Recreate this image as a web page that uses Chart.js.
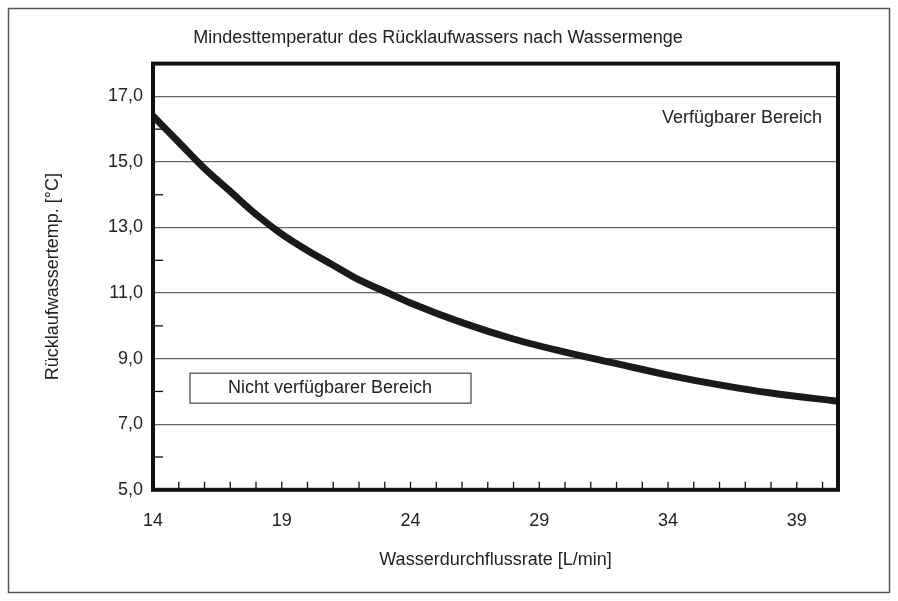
<!DOCTYPE html>
<html><head><meta charset="utf-8">
<script src="https://cdn.jsdelivr.net/npm/chart.js@4"></script>
<style>html,body{margin:0;padding:0;background:#fff}#w{width:898px;height:601px}</style>
</head><body><div id="w"><canvas id="c"></canvas></div>
<script>
const flowRate=[14,15,16,17,18,19,20,21,22,23,24,26,28,30,32,34,36,38,40.6];
const returnTemp=[16.4,15.6,14.8,14.1,13.4,12.8,12.3,11.85,11.4,11.05,10.7,10.1,9.6,9.2,8.85,8.5,8.2,7.95,7.7];
const xTicks=[14,19,24,29,34,39];
const yTicks=[5,7,9,11,13,15,17];
const F='Liberation Sans, Arial, sans-serif';
const deco={id:'deco',afterDraw(ch){
 const c=ch.ctx,a=ch.chartArea,xs=ch.scales.x,ys=ch.scales.y;
 c.save();
 c.strokeStyle='#555';c.lineWidth=1.5;c.strokeRect(8.5,8.5,881,584);
 c.strokeStyle='#111';c.lineWidth=1.3;
 for(let v=15;v<=40;v++){const px=xs.getPixelForValue(v);c.beginPath();c.moveTo(px,a.bottom);c.lineTo(px,a.bottom-8);c.stroke();}
 for(let v=6;v<=16;v+=2){const py=ys.getPixelForValue(v);c.beginPath();c.moveTo(a.left,py);c.lineTo(a.left+10,py);c.stroke();}
 c.lineWidth=4;c.strokeStyle='#111';c.strokeRect(a.left,a.top,a.right-a.left,a.bottom-a.top);
 c.fillStyle='#222';c.font='18px '+F;c.textAlign='right';c.textBaseline='middle';
 c.fillText('Verfügbarer Bereich',a.right-16,ys.getPixelForValue(16.35));
 const bx=a.left+37,by=ys.getPixelForValue(8.1)-15;
 c.fillStyle='#fff';c.fillRect(bx,by,281,30);
 c.lineWidth=1.2;c.strokeStyle='#444';c.strokeRect(bx,by,281,30);
 c.fillStyle='#222';c.textAlign='center';c.fillText('Nicht verfügbarer Bereich',bx+140,by+15);
 c.restore();}};
new Chart(document.getElementById('c'),{type:'line',
 data:{datasets:[{data:flowRate.map((x,i)=>({x,y:returnTemp[i]})),borderColor:'#1a1a1a',borderWidth:7,pointRadius:0,tension:0.4,cubicInterpolationMode:'monotone'}]},
 options:{responsive:true,maintainAspectRatio:false,animation:false,
  layout:{padding:{top:0,right:60,bottom:26,left:38}},
  plugins:{legend:{display:false},tooltip:{enabled:false},
   title:{display:true,text:'Mindesttemperatur des Rücklaufwassers nach Wassermenge',color:'#222',font:{family:F,size:18,weight:'normal'},padding:{top:27,bottom:15}}},
  scales:{
   x:{type:'linear',min:14,max:40.6,afterBuildTicks(s){s.ticks=xTicks.map(v=>({value:v}));},
    grid:{display:false},border:{display:false},
    ticks:{color:'#222',font:{family:F,size:18},padding:12,maxRotation:0},
    title:{display:true,text:'Wasserdurchflussrate [L/min]',color:'#222',font:{family:F,size:18},padding:{top:6}}},
   y:{min:5,max:18,afterBuildTicks(s){s.ticks=yTicks.map(v=>({value:v}));},
    afterFit(s){s.width=115;},
    grid:{color:'#666',lineWidth:1.2,drawTicks:false},border:{display:false},
    ticks:{color:'#222',font:{family:F,size:18},padding:10,callback:v=>v.toFixed(1).replace('.',',')},
    title:{display:true,text:'Rücklaufwassertemp. [°C]',color:'#222',font:{family:F,size:18},padding:{bottom:6}}}}},
 plugins:[deco]});
</script></body></html>
